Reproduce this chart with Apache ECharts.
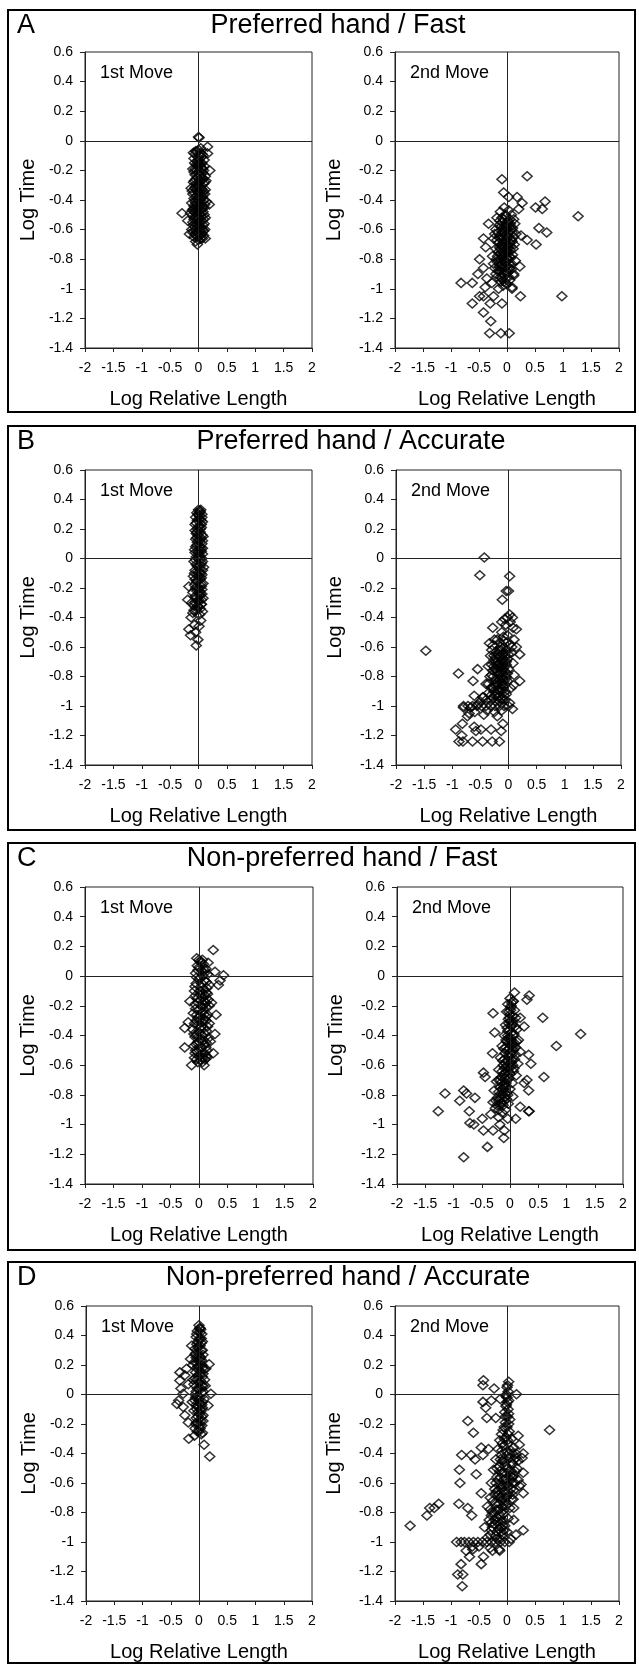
<!DOCTYPE html>
<html>
<head>
<meta charset="utf-8">
<script src="https://cdn.jsdelivr.net/npm/echarts@6/dist/echarts.min.js"></script>
<style>
html,body{margin:0;padding:0;background:#fff;}
#chart{width:639px;height:1666px;}
</style>
</head>
<body>
<div id="chart"></div>
<script>
// ---------------- DATA ----------------
const panelLetters = ['A', 'B', 'C', 'D'];
const panelTitles = ['Preferred hand / Fast', 'Preferred hand / Accurate', 'Non-preferred hand / Fast', 'Non-preferred hand / Accurate'];
const moveLabels = ['1st Move', '2nd Move'];
const xAxisName = 'Log Relative Length';
const yAxisName = 'Log Time';
const xTicks = [-2, -1.5, -1, -0.5, 0, 0.5, 1, 1.5, 2];
const yTicks = [-1.4, -1.2, -1, -0.8, -0.6, -0.4, -0.2, 0, 0.2, 0.4, 0.6];

// Panel A, 1st move  [log relative length, log time]
const firstA = [
[0,0.025],[0.01,0.02],[0.16,-0.04],[0.16,-0.085],[0.2,-0.2],[-0.29,-0.49],[0.19,-0.43],[0.12,-0.66],[-0.02,-0.70],[-0.16,-0.63],[-0.19,-0.54],[-0.13,-0.32],[0.13,-0.27],
[-0.05,-0.07],[0.03,-0.08],[0.08,-0.1],[-0.08,-0.12],[0,-0.13],[0.06,-0.15],[-0.04,-0.16],[0.1,-0.17],[-0.1,-0.19],[0.02,-0.2],[0.07,-0.22],[-0.06,-0.23],[0.12,-0.24],[-0.02,-0.25],[0.04,-0.27],[-0.09,-0.28],[0.09,-0.29],[0,-0.3],[-0.05,-0.31],[0.06,-0.33],[-0.11,-0.34],[0.02,-0.35],[0.11,-0.36],[-0.03,-0.37],[0.07,-0.38],[-0.08,-0.39],[0.01,-0.4],[0.14,-0.41],[-0.12,-0.42],[0.05,-0.43],[-0.04,-0.44],[0.1,-0.45],[-0.09,-0.46],[0,-0.47],[0.08,-0.48],[-0.14,-0.49],[0.03,-0.5],[-0.06,-0.51],[0.12,-0.52],[-0.02,-0.53],[0.06,-0.54],[-0.1,-0.55],[0.1,-0.56],[0,-0.57],[-0.07,-0.58],[0.05,-0.59],[-0.12,-0.6],[0.09,-0.61],[-0.03,-0.62],[0.03,-0.64],[-0.08,-0.65],[0.07,-0.66],[0,-0.67],[-0.05,-0.68],
[0.02,-0.1],[-0.03,-0.2],[0.05,-0.18],[-0.01,-0.35],[0.04,-0.42],[-0.07,-0.48],[0.01,-0.55],[0.06,-0.63],[-0.04,-0.29],[0.09,-0.34],[-0.1,-0.5],[0.11,-0.6],[0.03,-0.47],[-0.02,-0.14],
[0.0,-0.06],[-0.06,-0.09],[0.05,-0.11],[0.1,-0.13],[-0.02,-0.17],[0.07,-0.19],[-0.08,-0.21],[0.03,-0.23],[-0.05,-0.26],[0.08,-0.26],[0.01,-0.28],[-0.07,-0.32],[0.04,-0.32],[0.12,-0.33],[-0.02,-0.39],[0.09,-0.4],[-0.06,-0.41],[0.02,-0.44],[0.07,-0.45],[-0.11,-0.47],[0.05,-0.51],[-0.03,-0.5],[0.09,-0.53],[-0.08,-0.53],[0.02,-0.58],[-0.05,-0.6],[0.07,-0.6],[0.04,-0.66],[-0.1,-0.62],[0.0,-0.63],
[-0.09,-0.08],[0.06,-0.09],[-0.01,-0.11],[0.09,-0.2],[-0.07,-0.15],[0.04,-0.16],[-0.01,-0.22],[0.11,-0.28],[-0.07,-0.27],[0.02,-0.31],[-0.1,-0.36],[0.08,-0.36],[0.0,-0.38],[-0.05,-0.42],[0.11,-0.43],[0.0,-0.45],[-0.08,-0.44],[0.06,-0.46],[-0.04,-0.47],[0.1,-0.5],[0.0,-0.52],[-0.09,-0.57],[0.08,-0.57],[-0.03,-0.56],[0.03,-0.61],[-0.06,-0.63],[0.09,-0.64],[-0.02,-0.65],[0.05,-0.39],[-0.04,-0.33],[0.06,-0.25],[-0.06,-0.19],[0.01,-0.16],[0.04,-0.05],[-0.03,-0.07]
];
// Panel A, 2nd move
const secondA = [
[-0.09,-0.26],[0.36,-0.24],[-0.06,-0.35],[0.03,-0.38],[0.27,-0.42],[0.51,-0.45],[0.63,-0.46],[0.68,-0.41],[1.27,-0.51],[0.57,-0.59],[0.71,-0.62],[0.52,-0.70],[0.36,-0.67],[0.25,-0.64],[0.98,-1.05],[0.24,-1.05],[0.09,-1.0],
[-0.82,-0.96],[-0.62,-0.96],[-0.62,-1.10],[-0.49,-1.05],[-0.42,-1.16],[-0.29,-1.22],[-0.31,-1.30],[-0.11,-1.30],[0.04,-1.30],[-0.09,-1.10],[-0.30,-1.10],[-0.24,-1.05],[-0.49,-0.80],[-0.42,-0.66],[-0.38,-0.72],[-0.52,-0.90],[-0.42,-0.86],[-0.36,-0.93],[-0.33,-0.56],[0.21,-0.46],[0.18,-0.38],[0.23,-0.85],[0.12,-0.90],[-0.39,-0.99],[-0.42,-1.05],
[-0.05,-0.45],[0.03,-0.47],[-0.12,-0.48],[0.08,-0.5],[-0.02,-0.51],[-0.18,-0.52],[0.12,-0.53],[0.02,-0.54],[-0.08,-0.55],[0.06,-0.56],[-0.14,-0.57],[-0.01,-0.58],[0.1,-0.59],[-0.2,-0.6],[-0.06,-0.61],[0.04,-0.62],[0.16,-0.63],[-0.1,-0.64],[0,-0.65],[-0.24,-0.66],[0.08,-0.67],[-0.04,-0.68],[-0.15,-0.69],[0.13,-0.7],[0.02,-0.71],[-0.08,-0.72],[-0.2,-0.73],[0.06,-0.74],[-0.02,-0.75],[-0.12,-0.76],[0.1,-0.77],[-0.26,-0.78],[0,-0.79],[-0.06,-0.8],[0.15,-0.81],[-0.17,-0.82],[0.04,-0.83],[-0.1,-0.84],[-0.02,-0.85],[-0.22,-0.86],[0.08,-0.87],[-0.13,-0.88],[0.01,-0.89],[-0.07,-0.9],[0.12,-0.91],[-0.18,-0.92],[-0.03,-0.93],[0.05,-0.94],[-0.11,-0.95],[-0.27,-0.96],[0,-0.97],[-0.07,-0.98],[0.09,-0.99],[-0.15,-1.0],
[-0.09,-0.52],[0.0,-0.6],[-0.12,-0.66],[0.05,-0.69],[-0.05,-0.77],[0.02,-0.8],[-0.15,-0.75],[-0.09,-0.86],[0.06,-0.58],[-0.04,-0.64],[-0.18,-0.67],[0.11,-0.73],[-0.01,-0.88],[-0.2,-0.9],[-0.06,-0.7],[0.14,-0.56],[-0.22,-0.63],[-0.11,-0.8],[0.03,-0.92],
[-0.03,-0.5],[0.05,-0.53],[-0.11,-0.58],[0.09,-0.62],[-0.16,-0.62],[-0.02,-0.67],[0.09,-0.68],[-0.1,-0.7],[0.0,-0.73],[-0.17,-0.78],[0.07,-0.79],[-0.08,-0.78],[-0.04,-0.82],[-0.14,-0.85],[0.05,-0.86],[-0.24,-0.83],[-0.05,-0.95],[-0.12,-0.92],[0.02,-0.75],[-0.07,-0.62],[0.12,-0.65],[-0.13,-0.72],
[-0.06,-0.53],[0.0,-0.56],[-0.13,-0.54],[0.08,-0.6],[-0.04,-0.58],[-0.09,-0.6],[0.03,-0.65],[-0.14,-0.65],[-0.07,-0.66],[0.06,-0.71],[-0.03,-0.72],[-0.12,-0.73],[0.0,-0.77],[-0.09,-0.77],[-0.19,-0.8],[0.04,-0.78],[-0.02,-0.82],[-0.12,-0.82],[0.08,-0.83],[-0.06,-0.87],[-0.16,-0.88],[0.03,-0.86],[-0.09,-0.93],[-0.02,-0.96]
];
// Panel B, 1st move
const firstB = [
[0,0.33],[0.03,0.32],[-0.03,0.31],[0.06,0.3],[-0.05,0.28],[0.02,0.27],[0.07,0.25],[-0.04,0.24],[0.01,0.22],[0.05,0.21],[-0.06,0.19],[0.03,0.18],[-0.01,0.16],[0.08,0.15],[-0.05,0.13],[0.02,0.12],[0.06,0.1],[-0.03,0.09],[0.04,0.07],[-0.07,0.06],[0,0.04],[0.07,0.03],[-0.04,0.01],[0.03,0],[-0.08,-0.02],[0.05,-0.03],[-0.02,-0.05],[0.09,-0.06],[-0.06,-0.08],[0.01,-0.09],[0.06,-0.11],[-0.09,-0.12],[0.03,-0.14],[-0.03,-0.15],[0.08,-0.17],[-0.07,-0.18],[0,-0.2],[0.06,-0.21],[-0.1,-0.23],[0.03,-0.24],[-0.04,-0.26],[0.08,-0.27],[-0.01,-0.29],[0.05,-0.31],[-0.08,-0.32],
[-0.17,-0.19],[-0.19,-0.28],[-0.13,-0.40],[-0.17,-0.48],[-0.14,-0.52],[-0.04,-0.59],[-0.01,-0.55],[-0.07,-0.45],[0.02,-0.38],[0.05,-0.31],[-0.04,-0.35],[-0.1,-0.37],[0.04,-0.42],[-0.05,-0.5],[0.01,-0.46],[0.07,-0.36],[-0.12,-0.3],
[0.01,0.29],[-0.02,0.2],[0.04,0.14],[-0.01,0.05],[0.02,-0.07],[-0.03,-0.16],[0.02,-0.25],[0.04,0.26],[-0.02,0.11],[0.05,-0.13],
[0.02,0.31],[-0.02,0.26],[0.05,0.23],[-0.04,0.17],[0.06,0.16],[0.0,0.13],[-0.05,0.08],[0.07,0.07],[0.02,0.02],[-0.05,-0.01],[0.06,0.0],[-0.02,-0.11],[0.04,-0.1],[-0.06,-0.14],[0.05,-0.19],[-0.03,-0.22],[0.0,-0.28],[0.06,-0.24],[-0.06,-0.3],[0.0,-0.33],
[0.04,0.33],[-0.01,0.3],[0.06,0.28],[-0.06,0.23],[0.03,0.2],[-0.03,0.18],[0.07,0.12],[-0.03,0.14],[0.02,0.08],[-0.06,0.04],[0.05,0.05],[-0.01,0.0],[0.07,-0.02],[-0.04,-0.04],[0.03,-0.05],[-0.07,-0.1],[0.07,-0.08],[0.0,-0.12],[-0.05,-0.2],[0.04,-0.17],[0.02,-0.22],[-0.07,-0.26],[0.05,-0.28],[-0.02,-0.32],[-0.08,-0.35],[0.03,-0.34]
];
// Panel B, 2nd move
const secondB = [
[-0.43,0.007],[-0.51,-0.114],[0.02,-0.12],[-0.04,-0.22],[0,-0.22],[-0.11,-0.28],[-1.47,-0.626],[-0.89,-0.78],[-0.55,-0.75],[-0.63,-0.83],[-0.28,-0.47],[-0.34,-0.575],[0.14,-0.48],[0.20,-0.65],[0.20,-0.83],[0.09,-0.86],[0.07,-1.02],[-0.07,-0.41],[0.02,-0.38],[0.07,-0.40],[0.14,-0.6],
[-0.94,-1.16],[-0.83,-1.20],[-0.81,-1.24],[-0.88,-1.24],[-0.64,-1.24],[-0.46,-1.24],[-0.29,-1.24],[-0.16,-1.24],[-0.49,-1.16],[-0.58,-1.17],[-0.31,-1.16],[-0.13,-1.17],[-0.10,-1.12],[-0.82,-1.12],[-0.73,-1.07],[-0.67,-1.01],[-0.80,-1.01],[-0.61,-0.93],[-0.46,-0.94],[-0.61,-1.14],
[-0.12,-0.5],[-0.02,-0.52],[-0.2,-0.55],[-0.08,-0.56],[0.03,-0.58],[-0.28,-0.59],[-0.14,-0.6],[-0.04,-0.62],[-0.22,-0.63],[0.05,-0.64],[-0.1,-0.65],[-0.32,-0.66],[-0.17,-0.67],[-0.02,-0.68],[-0.26,-0.69],[-0.08,-0.7],[0.08,-0.71],[-0.2,-0.72],[-0.36,-0.73],[-0.13,-0.74],[0,-0.75],[-0.28,-0.76],[-0.06,-0.77],[-0.18,-0.78],[0.1,-0.79],[-0.33,-0.8],[-0.1,-0.81],[-0.24,-0.82],[-0.02,-0.83],[-0.15,-0.84],[-0.4,-0.85],[-0.07,-0.86],[-0.29,-0.87],[0.04,-0.88],[-0.19,-0.89],[-0.12,-0.9],[-0.35,-0.91],[-0.04,-0.92],[-0.24,-0.93],[-0.45,-0.94],[-0.1,-0.95],[-0.3,-0.96],[-0.16,-0.97],[0.02,-0.98],[-0.55,-0.99],
[-0.8,-1.0],[-0.72,-1.0],[-0.64,-1.0],[-0.56,-1.0],[-0.48,-1.0],[-0.4,-1.0],[-0.32,-1.0],[-0.24,-1.0],[-0.16,-1.0],[-0.08,-1.0],[0.0,-1.0],
[-0.38,-1.03],[-0.25,-1.04],[-0.6,-1.04],[-0.12,-1.03],[-0.44,-1.06],[-0.7,-1.05],[-0.2,-1.07],
[-0.16,-0.62],[-0.24,-0.75],[-0.11,-0.72],[-0.05,-0.8],[-0.2,-0.86],[-0.3,-0.72],[-0.14,-0.78],[-0.08,-0.6],[0.0,-0.65],[-0.26,-0.9],[-0.18,-0.94],[-0.1,-0.87],[-0.36,-0.85],[-0.04,-0.72],
[-0.05,-0.45],[0.08,-0.47],[-0.12,-0.43],[0.03,-0.43],[-0.02,-0.4],[0.1,-0.55],[0.06,-0.6],[-0.25,-0.55],[-0.3,-0.62],
[-0.15,-0.66],[-0.05,-0.66],[-0.22,-0.7],[-0.1,-0.76],[-0.02,-0.78],[-0.27,-0.8],[-0.16,-0.82],[-0.08,-0.83],[-0.2,-0.92],[-0.32,-0.93],[-0.14,-0.88],[-0.06,-0.9],[-0.24,-0.86],[-0.12,-0.7],[-0.18,-0.74],[-0.26,-0.66],[-0.04,-0.57],[-0.16,-0.57],[-0.09,-0.53],[-0.4,-0.96],[-0.5,-0.97],[-0.06,-0.96],
[-0.13,-0.62],[-0.06,-0.64],[-0.19,-0.65],[-0.1,-0.68],[-0.23,-0.67],[-0.04,-0.7],[-0.16,-0.71],[-0.26,-0.73],[-0.08,-0.74],[-0.2,-0.76],[-0.12,-0.77],[-0.3,-0.79],[-0.04,-0.81],[-0.14,-0.81],[-0.22,-0.84],[-0.11,-0.85],[-0.3,-0.88],[-0.16,-0.9],[-0.08,-0.93],[-0.28,-0.94],[-0.14,-0.95],[-0.22,-0.97]
];
// Panel C, 1st move
const firstC = [
[0.25,0.175],[0.43,0.005],[0.34,-0.06],[0.37,-0.03],[0.28,0.03],[0.16,0.09],[-0.04,0.12],[0,0.11],[-0.16,-0.17],[-0.25,-0.35],[-0.19,-0.31],[-0.25,-0.48],[-0.13,-0.60],[0.09,-0.60],[0.25,-0.52],[0.28,-0.39],[0.30,-0.26],[0.22,-0.18],[0.14,-0.55],
[0.02,0.1],[0.08,0.08],[-0.03,0.07],[0.12,0.05],[0.04,0.04],[-0.06,0.02],[0.15,0.01],[0.07,0],[0,-0.02],[0.1,-0.03],[-0.05,-0.05],[0.18,-0.06],[0.03,-0.07],[0.08,-0.09],[-0.08,-0.1],[0.13,-0.11],[0.01,-0.12],[0.06,-0.14],[-0.03,-0.15],[0.16,-0.16],[0.09,-0.17],[-0.07,-0.19],[0.04,-0.2],[0.12,-0.21],[-0.01,-0.23],[0.07,-0.24],[-0.1,-0.25],[0.15,-0.26],[0.02,-0.27],[0.1,-0.29],[-0.05,-0.3],[0.05,-0.31],[0.18,-0.32],[-0.02,-0.33],[0.08,-0.35],[-0.11,-0.36],[0.13,-0.37],[0.01,-0.38],[0.06,-0.4],[-0.07,-0.41],[0.16,-0.42],[0.03,-0.43],[-0.03,-0.45],[0.1,-0.46],[-0.09,-0.47],[0.05,-0.48],[0.14,-0.5],[-0.04,-0.51],[0.08,-0.52],[0,-0.54],[-0.08,-0.55],[0.11,-0.56],[0.03,-0.57],[-0.02,-0.58],
[0.05,-0.05],[0.09,-0.19],[0.02,-0.35],[0.11,-0.13],[-0.01,-0.44],[0.07,-0.55],[0.04,0.09],[0.13,-0.27],
[0.0,0.06],[0.1,0.04],[-0.04,-0.01],[0.13,-0.04],[0.02,-0.1],[-0.06,-0.13],[0.15,-0.12],[0.06,-0.21],[-0.04,-0.26],[0.12,-0.3],[0.0,-0.3],[-0.08,-0.32],[0.1,-0.39],[-0.05,-0.39],[0.13,-0.45],[0.02,-0.48],[-0.06,-0.5],[0.1,-0.52],[0.05,-0.55],[-0.04,-0.56],[0.18,-0.2],[0.2,-0.44],
[0.06,0.11],[-0.02,0.04],[0.09,0.02],[0.03,-0.01],[-0.07,-0.07],[0.14,-0.08],[0.05,-0.12],[-0.02,-0.18],[0.12,-0.18],[0.02,-0.16],[-0.06,-0.22],[0.09,-0.26],[-0.02,-0.28],[0.15,-0.34],[0.04,-0.34],[-0.09,-0.39],[0.08,-0.43],[-0.02,-0.41],[0.12,-0.48],[0.0,-0.5],[-0.07,-0.52],[0.06,-0.58],[0.13,-0.54],[-0.05,-0.46]
];
// Panel C, 2nd move
const secondC = [
[0.08,-0.11],[0.34,-0.13],[0.30,-0.16],[0.58,-0.28],[1.25,-0.39],[0.82,-0.47],[0.60,-0.68],[-0.30,-0.25],[-0.27,-0.38],[-0.31,-0.52],[-0.47,-0.65],[-0.44,-0.68],[-1.15,-0.79],[-1.27,-0.91],[-0.82,-1.22],[-0.89,-0.84],[-0.82,-0.77],[-0.77,-0.79],[-0.72,-0.91],[-0.71,-0.99],[-0.64,-1.00],[-0.62,-0.82],[-0.49,-0.96],[-0.47,-1.04],[-0.40,-1.15],[-0.30,-1.04],[-0.18,-1.00],[-0.11,-1.09],[-0.10,-1.04],[0.10,-0.96],[0.18,-0.88],[0.33,-0.91],[0.34,-0.91],[0.33,-0.77],[0.30,-0.70],[0.37,-0.59],[0.33,-0.53],[0.25,-0.72],[0.18,-0.28],[0.25,-0.34],[0.06,-0.17],
[0.0,-0.15],[0.05,-0.17],[-0.04,-0.19],[0.02,-0.21],[0.08,-0.23],[-0.06,-0.24],[0.0,-0.26],[0.1,-0.28],[-0.03,-0.29],[0.05,-0.31],[-0.08,-0.33],[0.02,-0.34],[0.12,-0.36],[-0.04,-0.37],[0.07,-0.39],[-0.1,-0.4],[0.0,-0.41],[0.15,-0.43],[-0.06,-0.44],[0.04,-0.45],[-0.14,-0.47],[0.1,-0.48],[-0.02,-0.49],[0.18,-0.51],[-0.09,-0.52],[0.03,-0.53],[-0.17,-0.55],[0.08,-0.56],[-0.05,-0.57],[0.14,-0.59],[-0.12,-0.6],[0.0,-0.61],[-0.2,-0.63],[0.06,-0.64],[-0.08,-0.65],[0.11,-0.67],[-0.15,-0.68],[-0.02,-0.69],[-0.24,-0.71],[0.04,-0.72],[-0.1,-0.73],[-0.18,-0.75],[0.0,-0.76],[-0.28,-0.77],[-0.06,-0.78],[-0.14,-0.8],[0.05,-0.81],[-0.22,-0.82],[-0.1,-0.84],[-0.3,-0.85],[-0.03,-0.86],[-0.18,-0.87],[-0.26,-0.89],[-0.08,-0.9],[-0.14,-0.92],[-0.34,-0.93],[-0.2,-0.95],[-0.04,-0.96],
[0.02,-0.2],[-0.02,-0.32],[0.06,-0.4],[-0.05,-0.5],[0.02,-0.58],[-0.1,-0.62],[-0.05,-0.7],[-0.16,-0.72],[-0.12,-0.78],[-0.2,-0.84],[-0.06,-0.83],[0.08,-0.45],[-0.03,-0.42],[0.1,-0.53],[-0.13,-0.57],[0.0,-0.66],[-0.08,-0.75],
[0.03,-0.18],[-0.02,-0.24],[0.05,-0.27],[0.01,-0.3],[-0.05,-0.35],[0.09,-0.34],[0.03,-0.38],[-0.07,-0.43],[0.02,-0.47],[0.12,-0.44],[-0.11,-0.49],[0.06,-0.5],[-0.02,-0.54],[-0.08,-0.59],[0.05,-0.6],[-0.14,-0.64],[-0.03,-0.64],[-0.09,-0.69],[-0.2,-0.7],[-0.13,-0.76],[-0.04,-0.8],[-0.17,-0.82],[-0.25,-0.84],[-0.12,-0.87],[-0.2,-0.9],
[0.01,-0.23],[-0.01,-0.28],[0.04,-0.33],[-0.04,-0.4],[0.02,-0.43],[-0.02,-0.45],[0.07,-0.47],[-0.07,-0.48],[0.0,-0.52],[-0.1,-0.56],[0.03,-0.56],[-0.04,-0.61],[0.07,-0.62],[-0.11,-0.66],[-0.06,-0.67],[-0.17,-0.7],[-0.07,-0.72],[-0.11,-0.75],[-0.2,-0.78],[-0.09,-0.81],[-0.15,-0.85],[-0.23,-0.87]
];
// Panel D, 1st move
const firstD = [
[0,0.47],[0.03,0.44],[-0.03,0.43],[0.05,0.41],[-0.05,0.39],[0.01,0.38],[0.06,0.36],[-0.04,0.34],[0.02,0.33],[-0.07,0.31],[0.04,0.3],[-0.01,0.28],[0.07,0.27],[-0.05,0.25],[0.02,0.23],[-0.08,0.22],[0.05,0.2],[-0.02,0.19],[0.08,0.17],[-0.06,0.15],[0.01,0.14],[0.06,0.12],[-0.04,0.1],[0.03,0.09],[-0.09,0.07],[0.07,0.06],[0,0.04],[-0.05,0.02],[0.05,0.01],[-0.02,-0.01],[0.09,-0.03],[-0.07,-0.04],[0.02,-0.06],[-0.03,-0.08],[0.06,-0.09],[-0.09,-0.11],[0.01,-0.13],[0.07,-0.14],[-0.05,-0.16],[0.03,-0.18],[-0.02,-0.2],[0.05,-0.21],[-0.07,-0.23],[0,-0.25],[0.04,-0.27],
[-0.34,0.15],[-0.34,0.095],[-0.32,0.04],[-0.39,-0.065],[-0.36,-0.04],[-0.25,0.13],[-0.22,0.175],[-0.28,0.005],[-0.28,-0.085],[-0.25,-0.14],[-0.19,-0.19],[-0.18,-0.30],[-0.08,-0.28],[-0.13,0.33],[-0.15,0.24],[-0.11,0.2],[-0.19,0.07],
[0.18,0.205],[0.21,0.005],[0.16,-0.075],[0.06,-0.26],[0.09,-0.34],[0.19,-0.42],[0.02,0.45],[0.12,0.175],[0.11,0.06],
[0.02,0.42],[-0.02,0.36],[0.04,0.35],[-0.06,0.28],[0.03,0.25],[-0.03,0.21],[0.06,0.18],[-0.02,0.12],[0.04,0.04],[-0.07,0.0],[0.02,-0.02],[0.06,-0.05],[-0.04,-0.1],[0.04,-0.11],[-0.02,-0.15],[0.07,-0.18],[-0.06,-0.2],[0.02,-0.23],[-0.1,0.1],[-0.12,-0.05],[0.1,0.1],
[0.01,0.45],[-0.04,0.41],[0.04,0.38],[-0.02,0.32],[0.06,0.3],[-0.07,0.27],[0.01,0.26],[0.05,0.23],[-0.04,0.18],[0.02,0.16],[0.07,0.14],[-0.07,0.11],[0.0,0.08],[0.05,0.06],[-0.03,0.04],[0.07,0.02],[-0.06,-0.02],[0.0,-0.04],[0.05,-0.07],[-0.05,-0.07],[0.02,-0.1],[-0.02,-0.12],[0.05,-0.15],[-0.04,-0.19],[0.01,-0.21],[-0.03,-0.25]
];
// Panel D, 2nd move
const secondD = [
[-0.42,0.097],[-0.43,0.063],[-0.23,0.04],[0.03,0.086],[0.01,0.063],[0.17,0.002],[-0.43,-0.05],[-0.38,-0.09],[-0.28,-0.04],[-0.12,-0.03],[-0.70,-0.18],[-0.60,-0.26],[-0.36,-0.16],[-0.20,-0.16],[0.76,-0.24],
[-0.81,-0.41],[-0.64,-0.41],[-0.57,-0.44],[-0.55,-0.54],[-0.46,-0.36],[-0.43,-0.41],[-0.33,-0.37],[-0.85,-0.51],[-0.84,-0.60],[-0.86,-0.74],[-0.70,-0.77],[-0.63,-0.82],[-0.46,-0.67],
[-1.73,-0.89],[-1.43,-0.82],[-1.38,-0.77],[-1.30,-0.77],[-1.22,-0.74],
[0.29,-0.92],[0.16,-0.95],[0.07,-0.98],[0.04,-1.00],[0.29,-0.53],[0.27,-0.43],[0.29,-0.40],[0.22,-0.34],[0.20,-0.28],[0.16,-0.43],[0.25,-0.61],[0.29,-0.67],[0.11,-0.71],[0.12,-0.77],[0.12,-0.85],
[-0.88,-1.22],[-0.79,-1.22],[-0.80,-1.30],[-0.82,-1.15],[-0.46,-1.15],[-0.42,-1.10],[-0.67,-1.10],[-0.61,-1.05],[-0.73,-1.06],[-0.26,-1.06],[-0.13,-1.06],
[0.0,0.05],[0.02,0.02],[-0.02,-0.01],[0.03,-0.04],[-0.01,-0.07],[0.02,-0.1],[-0.04,-0.12],[0.01,-0.15],[0.05,-0.17],[-0.03,-0.19],[0.0,-0.22],[-0.07,-0.24],[0.04,-0.25],[-0.1,-0.27],[-0.02,-0.29],[0.08,-0.3],[-0.13,-0.31],[0.02,-0.33],[-0.06,-0.35],[0.12,-0.36],[-0.16,-0.37],[-0.01,-0.39],[0.16,-0.4],[-0.1,-0.41],[0.05,-0.43],[-0.2,-0.44],[0.2,-0.45],[-0.04,-0.46],[0.1,-0.47],[-0.14,-0.49],[0.0,-0.5],[-0.24,-0.51],[0.15,-0.52],[-0.08,-0.53],[0.06,-0.55],[-0.18,-0.56],[-0.02,-0.57],[0.2,-0.58],[-0.28,-0.6],[-0.11,-0.61],[0.04,-0.62],[-0.22,-0.64],[0.12,-0.65],[-0.05,-0.66],[-0.15,-0.68],[0.0,-0.69],[-0.3,-0.7],[0.08,-0.71],[-0.1,-0.72],[-0.2,-0.74],[-0.02,-0.75],[-0.35,-0.76],[0.05,-0.77],[-0.14,-0.78],[-0.26,-0.8],[-0.06,-0.81],[-0.18,-0.83],[0.02,-0.84],[-0.32,-0.85],[-0.1,-0.86],[-0.22,-0.88],[-0.04,-0.89],[-0.4,-0.9],[-0.15,-0.91],[-0.28,-0.92],[0.0,-0.93],[-0.08,-0.95],[-0.2,-0.96],[-0.35,-0.97],[-0.12,-0.98],
[-0.9,-1.0],[-0.82,-1.0],[-0.76,-1.0],[-0.68,-1.0],[-0.6,-1.0],[-0.52,-1.0],[-0.44,-1.0],[-0.36,-1.0],[-0.28,-1.0],[-0.2,-1.0],[-0.12,-1.0],[-0.04,-1.0],
[-0.5,-1.03],[-0.3,-1.04],[-0.14,-1.05],[-0.62,-1.03],
[-0.01,0.0],[0.03,-0.2],[-0.05,-0.3],[0.1,-0.4],[-0.08,-0.45],[0.03,-0.52],[-0.12,-0.56],[0.14,-0.6],[-0.16,-0.65],[-0.07,-0.7],[-0.25,-0.72],[-0.1,-0.8],[-0.22,-0.85],[-0.12,-0.9],[0.07,-0.58],[-0.02,-0.62],[0.1,-0.68],[-0.28,-0.82],[-0.05,-0.92],[0.18,-0.5],[0.22,-0.62],[-0.3,-0.95],
[0.01,-0.05],[-0.03,-0.15],[0.02,-0.27],[-0.08,-0.33],[0.07,-0.38],[-0.12,-0.44],[0.13,-0.44],[-0.03,-0.48],[-0.18,-0.5],[0.08,-0.52],[-0.06,-0.58],[0.1,-0.6],[-0.2,-0.6],[-0.1,-0.64],[0.03,-0.66],[-0.22,-0.68],[-0.04,-0.72],[-0.15,-0.74],[-0.08,-0.76],[-0.3,-0.78],[-0.16,-0.86],[-0.06,-0.86],[-0.26,-0.9],[-0.1,-0.93],[-0.18,-0.98],[0.12,-0.55],
[0.0,-0.02],[-0.02,-0.08],[0.03,-0.13],[-0.05,-0.22],[0.01,-0.31],[-0.09,-0.38],[0.04,-0.4],[-0.06,-0.44],[0.08,-0.46],[-0.13,-0.52],[-0.04,-0.53],[0.1,-0.56],[-0.16,-0.58],[-0.01,-0.6],[-0.08,-0.62],[0.07,-0.64],[-0.19,-0.66],[-0.12,-0.7],[-0.02,-0.7],[-0.18,-0.78],[-0.05,-0.78],[-0.22,-0.8],[-0.12,-0.83],[-0.28,-0.87],[-0.08,-0.89],[-0.18,-0.93]
];

const firstMoves = [firstA, firstB, firstC, firstD];
const secondMoves = [secondA, secondB, secondC, secondD];

// ---------------- LAYOUT ----------------
const FONT = '"Liberation Sans", Arial, Helvetica, sans-serif';
const panelBoxes = [[10, 412], [426, 830], [843, 1250], [1262, 1663]];
const plotTops = [52, 470, 887, 1306];
const plotHeights = [296, 295, 297, 295];
const leftGrids = [[85, 227], [85, 227], [85, 228], [86, 226]];
const rightGrids = [[395, 224], [396, 225], [397, 226], [395, 224]];
const titleCenters = [338, 351, 342, 348];

const grids = [], xAxes = [], yAxes = [], series = [], graphics = [];
const fmt = v => String(Math.round(v * 10) / 10);

for (let p = 0; p < 4; p++) {
  const box = panelBoxes[p];
  graphics.push({type: 'rect', shape: {x: 8, y: box[0], width: 627, height: box[1] - box[0]},
    style: {fill: 'none', stroke: '#000', lineWidth: 2}, silent: true});
  graphics.push({type: 'text', x: 17, y: box[0] + 16, style: {text: panelLetters[p], font: '27px ' + FONT, fill: '#000', textVerticalAlign: 'middle'}});
  graphics.push({type: 'text', x: titleCenters[p], y: box[0] + 16, style: {text: panelTitles[p], font: '27px ' + FONT, fill: '#000', textAlign: 'center', textVerticalAlign: 'middle'}});
  [leftGrids[p], rightGrids[p]].forEach((g, k) => {
    const idx = grids.length;
    grids.push({left: g[0], top: plotTops[p], width: g[1], height: plotHeights[p], show: true, borderColor: '#222', borderWidth: 1, backgroundColor: 'transparent'});
    xAxes.push({type: 'value', gridIndex: idx, min: xTicks[0], max: xTicks[xTicks.length - 1], interval: 0.5,
      axisLine: {show: true, onZero: false, lineStyle: {color: '#222', width: 1}},
      axisTick: {show: true, length: 4, lineStyle: {color: '#222'}},
      axisLabel: {fontSize: 14, color: '#000', margin: 13, fontFamily: FONT, formatter: fmt},
      splitLine: {show: false},
      name: xAxisName, nameLocation: 'middle', nameGap: 41,
      nameTextStyle: {fontSize: 20, color: '#000', fontFamily: FONT}});
    yAxes.push({type: 'value', gridIndex: idx, min: yTicks[0], max: yTicks[yTicks.length - 1], interval: 0.2,
      axisLine: {show: true, onZero: false, lineStyle: {color: '#222', width: 1}},
      axisTick: {show: true, length: 5, lineStyle: {color: '#222'}},
      axisLabel: {fontSize: 14, color: '#000', margin: 12, fontFamily: FONT, formatter: fmt},
      splitLine: {show: false},
      name: yAxisName, nameLocation: 'middle', nameGap: k === 0 ? 47 : 51, nameRotate: 90,
      nameTextStyle: {fontSize: 20, color: '#000', fontFamily: FONT}});
    series.push({type: 'scatter', xAxisIndex: idx, yAxisIndex: idx,
      data: k === 0 ? firstMoves[p] : secondMoves[p],
      symbol: 'diamond', symbolSize: [10, 9],
      itemStyle: {color: 'rgba(0,0,0,0)', borderColor: '#000', borderWidth: 1.5},
      markLine: {silent: true, symbol: 'none', label: {show: false},
        lineStyle: {color: '#222', width: 1, type: 'solid'},
        data: [{xAxis: 0}, {yAxis: 0}]},
      z: 3});
    graphics.push({type: 'text', x: g[0] + 15, y: plotTops[p] + 21, style: {text: moveLabels[k], font: '18px ' + FONT, fill: '#000', textVerticalAlign: 'middle'}});
  });
}

const chart = echarts.init(document.getElementById('chart'), null, {renderer: 'canvas'});
chart.setOption({
  animation: false,
  backgroundColor: '#fff',
  grid: grids, xAxis: xAxes, yAxis: yAxes, series: series, graphic: graphics
});
</script>
</body>
</html>
